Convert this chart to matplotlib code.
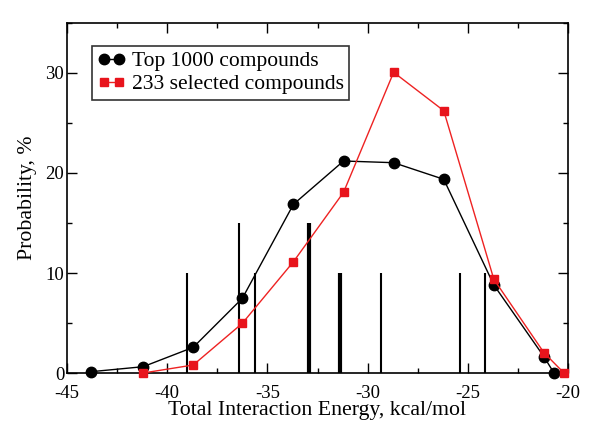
import matplotlib
matplotlib.use("Agg")
import matplotlib.pyplot as plt
from matplotlib.ticker import MultipleLocator, FuncFormatter

plt.rcParams['font.family'] = ['Liberation Serif', 'DejaVu Serif']

# Data
top_x = [-43.8, -41.2, -38.7, -36.25, -33.7, -31.2, -28.7, -26.2, -23.7, -21.2, -20.7]
top_y = [0.13, 0.63, 2.57, 7.47, 16.87, 21.2, 21.03, 19.37, 8.8, 1.63, 0.0]
sel_x = [-41.2, -38.7, -36.25, -33.7, -31.2, -28.7, -26.2, -23.7, -21.2, -20.2]
sel_y = [0.0, 0.8, 4.97, 11.13, 18.07, 30.07, 26.23, 9.37, 2.03, 0.0]
bar_x = [-39.0, -36.4, -35.6, -32.9, -31.4, -29.35, -25.4, -24.15]
bar_h = [10, 15, 10, 15, 10, 10, 10, 10]
labels = ["Top 1000 compounds", "233 selected compounds"]

# Styles
bar_lw = [1.5, 1.5, 1.5, 3.0, 3.0, 1.5, 1.5, 1.5]

fig = plt.figure(figsize=(6.01, 4.33), dpi=100)
ax = fig.add_axes([67/601, 1-373/433, (568-67)/601, (373-23)/433])

ax.vlines(bar_x, 0, bar_h, colors='black', linewidths=bar_lw, zorder=2)
ax.plot(top_x, top_y, '-o', color='black', lw=1.0, ms=7.5, label=labels[0], zorder=3, clip_on=False)
ax.plot(sel_x, sel_y, '-s', color='#ee2222', mfc='#e8141c', mec='#e8141c', lw=1.0, ms=5.5,
        label=labels[1], zorder=4, clip_on=False)

ax.set_xlim(-45, -20)
ax.set_ylim(0, 35)
ax.xaxis.set_major_locator(MultipleLocator(5))
ax.xaxis.set_minor_locator(MultipleLocator(2.5))
ax.yaxis.set_major_locator(MultipleLocator(10))
ax.yaxis.set_minor_locator(MultipleLocator(5))
ax.tick_params(which='both', direction='in', top=True, right=True, labelsize=13.5, width=1.0)
ax.tick_params(which='major', length=7)
ax.tick_params(which='minor', length=3.5)
ax.tick_params(axis='y', which='major', pad=2)
ax.tick_params(axis='x', which='major', pad=9)
for s in ax.spines.values():
    s.set_linewidth(1.2)
ax.xaxis.set_major_formatter(FuncFormatter(lambda v, p: f"{v:.0f}"))
ax.yaxis.set_major_formatter(FuncFormatter(lambda v, p: f"{v:.0f}"))

ax.set_xlabel("Total Interaction Energy, kcal/mol", fontsize=15.7, labelpad=-1)
ax.set_ylabel("Probability, %", fontsize=15.7, labelpad=6)

leg = ax.legend(loc='upper left', bbox_to_anchor=(0.05, 0.935), fontsize=15.5, numpoints=2,
                handlelength=1.3, handletextpad=0.3, borderpad=0.25, labelspacing=0.15,
                fancybox=False, frameon=True, borderaxespad=0)
leg.get_frame().set_edgecolor('black')
leg.get_frame().set_linewidth(1.2)

fig.savefig("out.png", dpi=100)
